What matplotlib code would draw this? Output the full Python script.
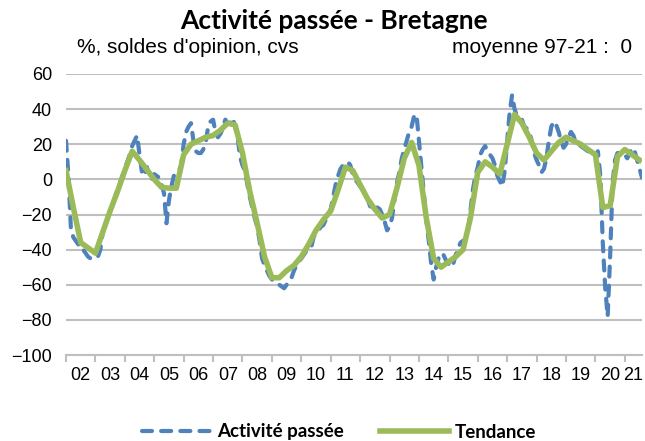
import numpy as np
import matplotlib
matplotlib.use("Agg")
import matplotlib.pyplot as plt
from matplotlib.lines import Line2D

# Activité passée, mensuel, janv. 2002 -> 2021 (soldes d'opinion, cvs)
activite = [
    22, 2, -28, -33, -35, -37, -37, -40, -42, -44, -45, -45,
    -44, -44, -40, -30, -26, -22, -18, -14, -10, -6, -2, 2,
    6, 10, 14, 19, 22, 25, 14, 4, 2, 7, 2, 0,
    3, 2, 1, -3, -8, -25, -12, -4, 2, 3, 5, 8,
    20, 27, 30, 32, 22, 16, 15, 15, 17, 21, 30, 33,
    34, 27, 24, 26, 29, 34, 32, 32, 35, 30, 24, 13,
    8, 5, -3, -10, -16, -22, -27, -35, -45, -49, -52, -55,
    -57, -58, -59, -60, -61, -62, -60, -58, -56, -52, -49, -47,
    -45, -43, -41, -40, -39, -33, -30, -29, -27, -26, -23, -20,
    -17, -10, -3, 2, 6, 8, 9, 10, 8, 3, 0, -2,
    -4, -6, -8, -11, -15, -18, -17, -16, -17, -20, -24, -29,
    -27, -22, -12, -2, 4, 12, 17, 22, 27, 30, 36, 37,
    22, 7, -8, -23, -35, -48, -57, -50, -45, -42, -43, -46,
    -48, -50, -48, -43, -39, -36, -35, -34, -30, -18, -6, 2,
    7, 14, 17, 19, 16, 14, 12, 8, 2, -1, -4, 5,
    22, 38, 48, 40, 36, 35, 34, 30, 29, 27, 22, 15,
    11, 8, 4, 6, 12, 22, 30, 33, 31, 27, 22, 18,
    20, 24, 27, 25, 21, 20, 19, 18, 17, 16, 15, 14,
    13, 16, 2, -36, -62, -78, -44, -2, 11, 15, 15, 15,
    14, 12, 15, 18, 16, 11, 6, 1,
]

# Tendance, trimestriel
tendance = [
    5, -16, -36, -39, -42, -30, -18, -7, 5, 16,
    11, 5.5, 0, -4.5, -5, -5, 14, 20, 22, 24,
    25, 28, 32, 31, 15, -7, -25, -44, -56, -56,
    -52, -49, -44, -37, -29, -23, -18, -6, 7, 5,
    -3, -11, -17, -22, -20, -5, 12, 21, 8, -22,
    -45, -50, -47, -44, -40, -22, 4, 10, 7, 3,
    20, 37, 32, 24, 15, 11, 16, 21, 24, 22,
    20, 17, 14, -16, -15, 13, 17, 14, 11,
]

annees = ["02", "03", "04", "05", "06", "07", "08", "09", "10", "11",
          "12", "13", "14", "15", "16", "17", "18", "19", "20", "21"]

x_act = np.arange(len(activite))
x_tend = np.arange(len(tendance)) * 3
n_last = len(activite) - 1

plt.rcParams["font.family"] = ["Liberation Sans", "DejaVu Sans"]

bleu = "#4F81BD"
vert = "#9BBB59"
tirets = (0, (2.4, 2.2))

fig = plt.figure(figsize=(6.45, 4.41), dpi=100)
ax = fig.add_axes([66 / 645, 1 - 355 / 441, (642 - 66) / 645, (355 - 74) / 441])

ax.plot(x_act, activite, color=bleu, lw=3, ls=tirets,
        dash_capstyle="round", zorder=3)
ax.plot(x_tend, tendance, color=vert, lw=4, solid_joinstyle="round", zorder=4)

ax.set_xlim(0, n_last)
ax.set_ylim(-100, 60)
ax.set_yticks(np.arange(-100, 61, 20))
ax.tick_params(axis="y", length=0, labelsize=13, pad=10)
ax.yaxis.grid(True, color="#BFBFBF", lw=1.5)
ax.set_axisbelow(True)

# ticks entre les années, libellés centrés
ax.set_xticks(np.arange(0, n_last + 1, 12))
ax.set_xticklabels([])
ax.tick_params(axis="x", which="major", length=5, color="#BFBFBF", width=1.5)
centres = [min(12 * i + 6, (12 * i + n_last) / 2) for i in range(len(annees))]
ax.set_xticks(centres, minor=True)
ax.set_xticklabels(annees, minor=True)
ax.tick_params(axis="x", which="minor", length=0, labelsize=13, pad=9)

for s in ["left", "right", "top"]:
    ax.spines[s].set_visible(False)
ax.spines["bottom"].set_color("#BFBFBF")
ax.spines["bottom"].set_linewidth(1.5)

fig.text(334 / 645, 0.953, "Activité passée - Bretagne", ha="center", va="center",
         fontsize=19, fontweight="bold", family="Lato")
fig.text(77 / 645, 0.893, "%, soldes d'opinion, cvs", ha="left", va="center", fontsize=15)
fig.text(632 / 645, 0.893, "moyenne 97-21 :  0", ha="right", va="center", fontsize=15)

handles = [Line2D([], [], color=bleu, lw=3, ls=tirets, dash_capstyle="round"),
           Line2D([], [], color=vert, lw=4)]
fig.legend(handles, ["Activité passée", "Tendance"], loc="center",
           bbox_to_anchor=(339 / 645, 1 - 432 / 441), ncol=2, frameon=False,
           handlelength=3.7, handletextpad=0.3, columnspacing=1.9,
           prop={"family": "Lato", "weight": "bold", "size": 13.5})

fig.savefig("out.png", dpi=100)
